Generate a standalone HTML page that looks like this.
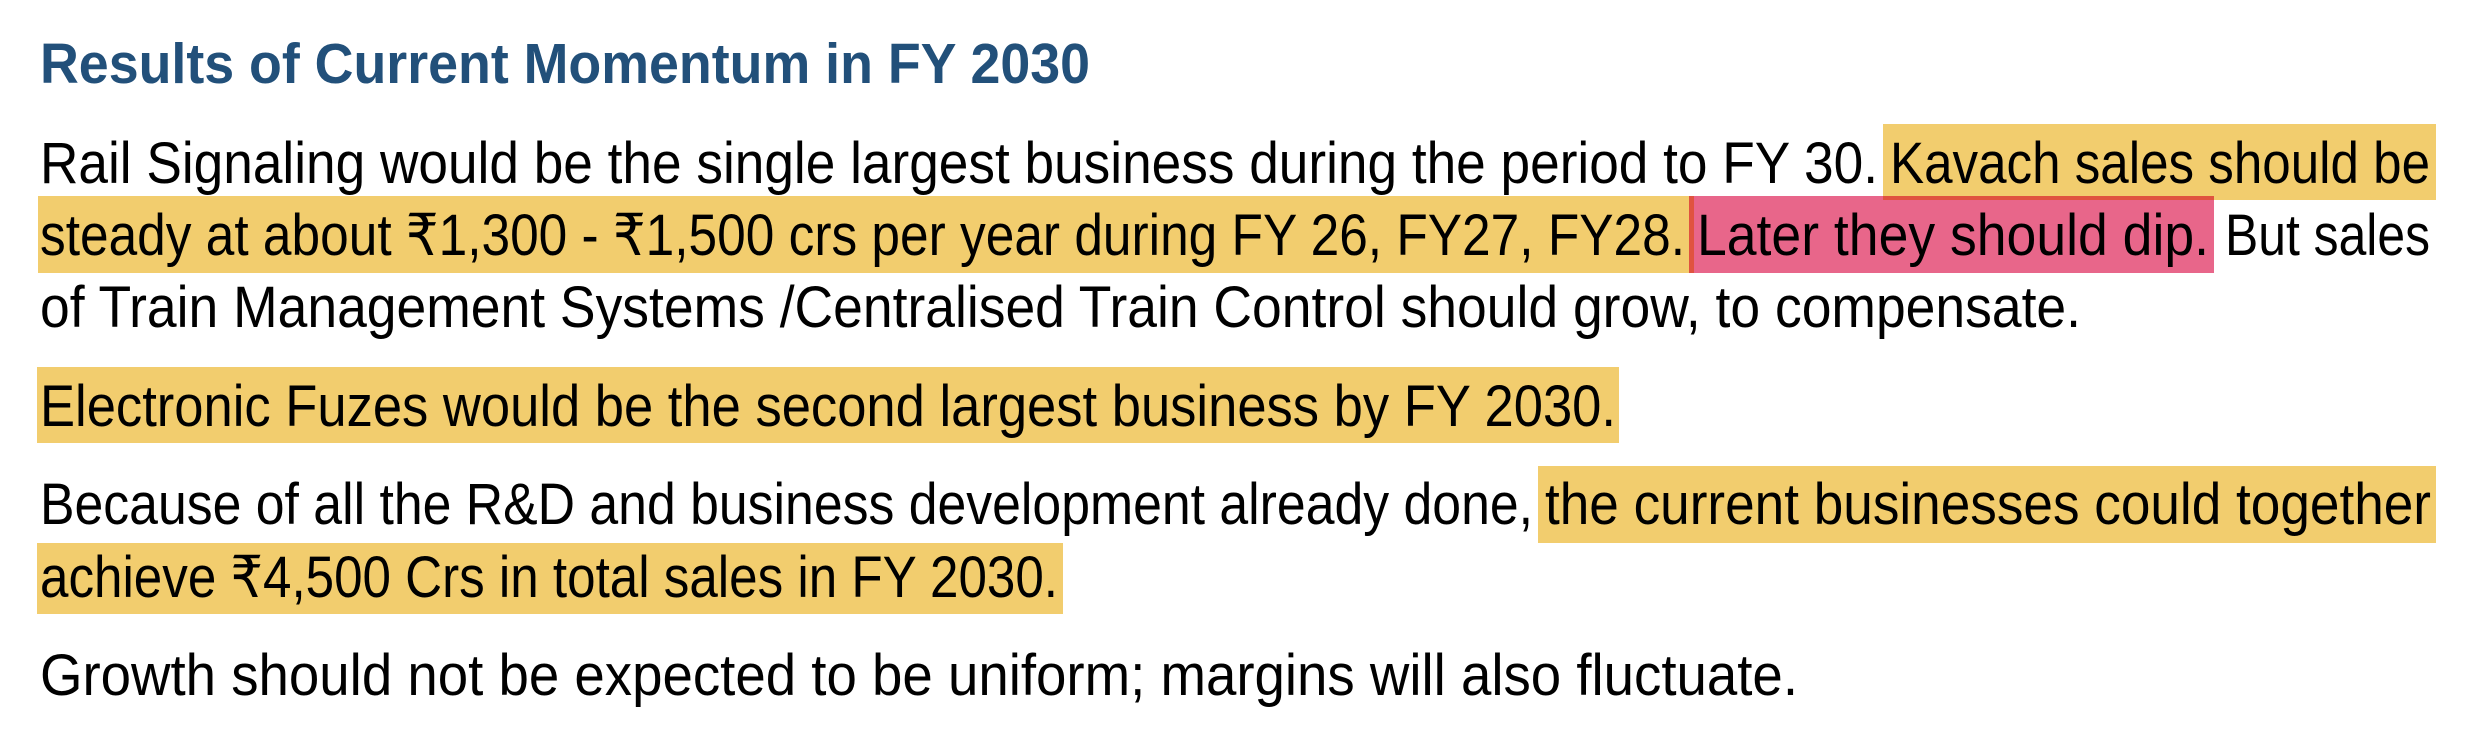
<!DOCTYPE html>
<html><head><meta charset="utf-8"><style>
html,body{margin:0;padding:0;background:#fff;width:2488px;height:752px;overflow:hidden}
svg{display:block}
text{font-family:"Liberation Sans",sans-serif;font-size:58px;fill:#000}
</style></head><body>
<svg width="2488" height="752" viewBox="0 0 2488 752" xmlns="http://www.w3.org/2000/svg">
<rect x="1883" y="124" width="553" height="76" fill="#f2cd6e"/>
<rect x="38" y="196" width="1655" height="77" fill="#f2cd6e"/>
<rect x="1691" y="196" width="523" height="77" fill="#e8668a"/>
<rect x="1883" y="196" width="331" height="4" fill="#e0533f"/>
<rect x="1689" y="196" width="5" height="77" fill="#e0533f"/>
<rect x="37" y="367" width="1582" height="76" fill="#f2cd6e"/>
<rect x="1538" y="466" width="898" height="77" fill="#f2cd6e"/>
<rect x="37" y="543" width="1026" height="71" fill="#f2cd6e"/>

<text x="40" y="83" style="fill:#22507a;font-weight:bold;font-size:57px" textLength="1050" lengthAdjust="spacingAndGlyphs">Results of Current Momentum in FY 2030</text>

<text x="40" y="183" textLength="1838" lengthAdjust="spacingAndGlyphs">Rail Signaling would be the single largest business during the period to FY 30.</text>
<text x="1890" y="183" textLength="540" lengthAdjust="spacingAndGlyphs">Kavach sales should be</text>

<text x="40" y="255" textLength="1645" lengthAdjust="spacingAndGlyphs">steady at about ₹1,300 - ₹1,500 crs per year during FY 26, FY27, FY28.</text>
<text x="1697" y="255" textLength="512" lengthAdjust="spacingAndGlyphs">Later they should dip.</text>
<text x="2225" y="255" textLength="205" lengthAdjust="spacingAndGlyphs">But sales</text>

<text x="40" y="327" textLength="2041" lengthAdjust="spacingAndGlyphs">of Train Management Systems /Centralised Train Control should grow, to compensate.</text>

<text x="40" y="426" textLength="1576" lengthAdjust="spacingAndGlyphs">Electronic Fuzes would be the second largest business by FY 2030.</text>

<text x="40" y="524" textLength="1493" lengthAdjust="spacingAndGlyphs">Because of all the R&amp;D and business development already done,</text>
<text x="1545" y="524" textLength="886" lengthAdjust="spacingAndGlyphs">the current businesses could together</text>

<text x="40" y="597" textLength="1018" lengthAdjust="spacingAndGlyphs">achieve ₹4,500 Crs in total sales in FY 2030.</text>

<text x="40" y="695" textLength="1758" lengthAdjust="spacingAndGlyphs">Growth should not be expected to be uniform; margins will also fluctuate.</text>
</svg>
</body></html>
